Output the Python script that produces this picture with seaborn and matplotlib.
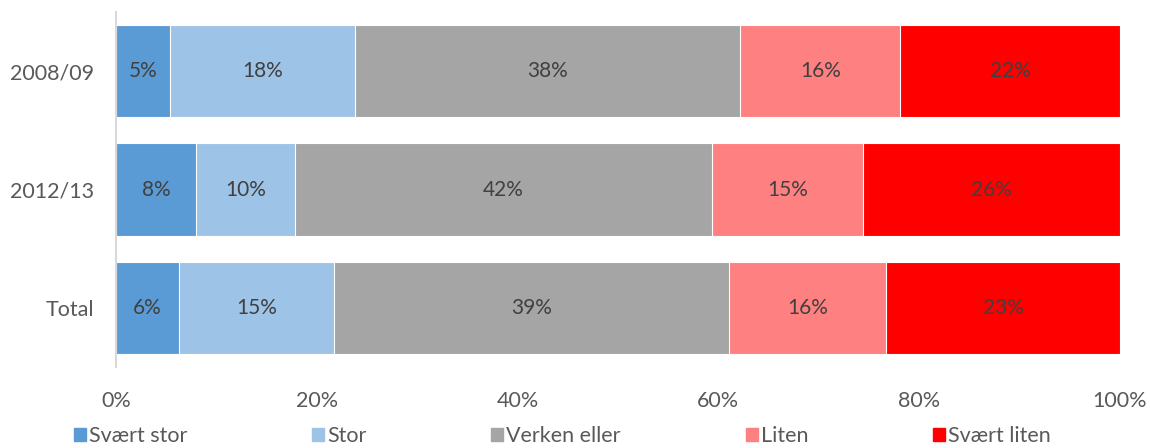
import numpy as np
import matplotlib
matplotlib.use("Agg")
import matplotlib.pyplot as plt
from matplotlib.patches import Patch
import seaborn as sns

years = ["2008/09", "2012/13", "Total"]
groups = ["Svært stor", "Stor", "Verken eller", "Liten", "Svært liten"]
svaert_stor = [5.4, 8.0, 6.3]
stor = [18.4, 9.8, 15.4]
verken = [38.4, 41.6, 39.4]
liten = [15.9, 15.0, 15.6]
svaert_liten = [21.9, 25.6, 23.3]
colors = ["#5B9BD5", "#9DC3E6", "#A5A5A5", "#FF8080", "#FF0000"]

sns.set_style("white")
plt.rcParams["font.family"] = ["Lato", "DejaVu Sans"]

vals = np.array([svaert_stor, stor, verken, liten, svaert_liten])
cum = vals.cumsum(axis=0)

fig = plt.figure(figsize=(11.5, 4.48), dpi=100)
ax = fig.add_axes([116 / 1150, 1 - 367 / 448, 1004 / 1150, 355 / 448])

# stacked bars: draw cumulative totals from the longest to the shortest
for i in range(len(groups) - 1, -1, -1):
    sns.barplot(x=cum[i], y=years, color=colors[i], orient="h", ax=ax,
                width=0.78, saturation=1, edgecolor="white", linewidth=0.8)

for i in range(len(groups)):
    for j in range(len(years)):
        ax.text(cum[i, j] - vals[i, j] / 2, j, f"{round(vals[i, j])}%",
                ha="center", va="center", fontsize=15, color="#404040")

ax.set_xlim(0, 100)
ax.set_ylim(2.5, -0.5)
ax.set_xticks([0, 20, 40, 60, 80, 100])
ax.set_xticklabels(["0%", "20%", "40%", "60%", "80%", "100%"])
ax.set_xlabel("")
ax.set_ylabel("")
ax.tick_params(axis="x", length=0, pad=17, labelsize=15.5, labelcolor="#595959")
ax.tick_params(axis="y", length=0, pad=16, labelsize=15.5, labelcolor="#595959")
for s in ["top", "right", "bottom"]:
    ax.spines[s].set_visible(False)
ax.spines["left"].set_color("#D9D9D9")
ax.spines["left"].set_linewidth(1.5)

handles = [Patch(facecolor=c, edgecolor=c) for c in colors]
fig.legend(handles, groups, loc="center", bbox_to_anchor=(0.489, 0.026), ncol=5,
           frameon=False, fontsize=15.5, labelcolor="#595959",
           handlelength=0.55, handleheight=0.55, handletextpad=0.15,
           columnspacing=5.8)

fig.savefig("out.png", dpi=100)
